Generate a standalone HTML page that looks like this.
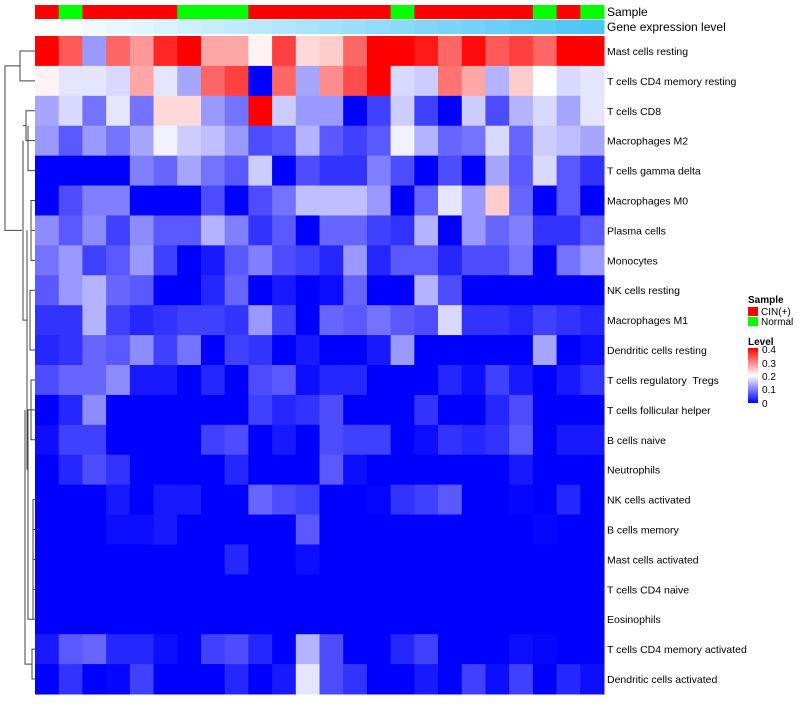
<!DOCTYPE html>
<html><head><meta charset="utf-8"><style>
body{margin:0;background:#fff;font-family:"Liberation Sans",sans-serif}
svg text{font-family:"Liberation Sans",sans-serif}
#labels text{white-space:pre}
</style></head><body>
<svg id="chart" width="800" height="700" xmlns="http://www.w3.org/2000/svg">
<g id="dendro" stroke="#444" fill="none" stroke-width="1"></g>
<g id="annot"></g>
<g id="cells"></g>
<g id="labels" font-size="10.5" fill="#000"></g>
<text x="607" y="16" font-size="12">Sample</text>
<text x="607" y="31" font-size="12">Gene expression level</text>
<g font-size="10">
<text x="748" y="303" font-weight="bold">Sample</text>
<rect x="748" y="307" width="10" height="9" fill="#f00"/>
<text x="761" y="315">CIN(+)</text>
<rect x="748" y="317" width="10" height="9" fill="#0f0"/>
<text x="761" y="325">Normal</text>
<text x="748" y="345" font-weight="bold">Level</text>
<defs><linearGradient id="lg" x1="0" y1="1" x2="0" y2="0"><stop offset="0" stop-color="#00f"/><stop offset="0.5" stop-color="#fff"/><stop offset="1" stop-color="#f00"/></linearGradient></defs>
<rect x="748" y="348" width="10" height="55" fill="url(#lg)"/>
<text x="762" y="353">0.4</text>
<text x="762" y="367">0.3</text>
<text x="762" y="380">0.2</text>
<text x="762" y="393">0.1</text>
<text x="762" y="407">0</text>
</g>
</svg>
<script>
const rowNames=["Mast cells resting","T cells CD4 memory resting","T cells CD8","Macrophages M2","T cells gamma delta","Macrophages M0","Plasma cells","Monocytes","NK cells resting","Macrophages M1","Dendritic cells resting","T cells regulatory  Tregs","T cells follicular helper","B cells naive","Neutrophils","NK cells activated","B cells memory","Mast cells activated","T cells CD4 naive","Eosinophils","T cells CD4 memory activated","Dendritic cells activated"];
const sampleGroups=["C","N","C","C","C","C","N","N","N","C","C","C","C","C","C","N","C","C","C","C","C","N","C","N"];
const r0=[0.42,0.33,0.12,0.32,0.28,0.37,0.42,0.27,0.27,0.21,0.35,0.23,0.24,0.32,0.42,0.42,0.38,0.32,0.39,0.33,0.35,0.32,0.42,0.42];
const r1=[0.21,0.18,0.18,0.17,0.27,0.18,0.13,0.32,0.35,0,0.32,0.13,0.29,0.34,0.4,0.17,0.16,0.31,0.27,0.14,0.24,0.2,0.17,0.18];
const r2=[0.13,0.17,0.09,0.18,0.09,0.23,0.23,0.12,0.09,0.45,0.16,0.12,0.12,0,0.05,0.16,0.05,0,0.16,0.06,0.14,0.17,0.13,0.18];
const r3=[0.12,0.07,0.12,0.09,0.13,0.19,0.16,0.15,0.12,0.06,0.07,0.14,0.07,0.05,0.07,0.19,0.14,0.08,0.09,0.17,0.08,0.16,0.15,0.13];
const r4=[0,0,0,0,0.1,0.08,0.13,0.09,0.07,0.16,0,0.06,0.04,0.04,0.1,0.06,0,0.06,0,0.13,0.07,0.17,0.07,0.04];
const r5=[0,0.06,0.1,0.1,0,0,0,0.06,0,0.06,0.09,0.15,0.15,0.15,0.12,0,0.08,0.18,0.12,0.24,0.08,0,0.07,0];
const r6=[0.11,0.07,0.11,0.05,0.11,0.07,0.07,0.14,0.1,0.04,0.07,0,0.08,0.08,0.05,0.04,0.14,0,0.12,0.08,0.1,0.04,0.04,0.07];
const r7=[0.09,0.12,0.05,0.07,0.12,0.05,0,0.02,0.07,0.1,0.06,0.05,0.03,0.12,0.03,0.07,0.07,0.03,0.06,0.06,0.09,0,0.09,0.12];
const r8=[0.07,0.12,0.14,0.08,0.07,0,0,0.03,0.08,0,0.02,0,0.01,0.08,0,0,0.14,0.06,0,0,0,0,0,0];
const r9=[0.04,0.04,0.14,0.05,0.03,0.04,0.05,0.05,0.04,0.12,0.05,0,0.08,0.07,0.09,0.07,0.06,0.17,0.04,0.04,0.03,0.05,0.04,0.03];
const r10=[0.03,0.04,0.08,0.07,0.11,0.05,0.09,0,0.05,0.04,0,0.02,0,0,0.02,0.12,0,0,0,0,0,0.13,0,0.01];
const r11=[0.06,0.08,0.08,0.11,0.02,0.02,0,0.03,0,0.06,0.07,0.01,0.03,0.03,0,0,0,0.03,0.01,0.05,0.02,0,0.02,0.04];
const r12=[0,0.03,0.11,0,0,0,0,0,0,0.05,0.03,0.04,0.06,0,0,0,0.04,0,0,0.03,0.06,0,0,0];
const r13=[0.01,0.05,0.05,0,0,0,0,0.05,0.06,0,0.02,0,0.06,0.05,0.05,0,0.01,0.04,0.03,0.04,0.07,0,0.02,0.02];
const r14=[0,0.03,0.06,0.04,0,0,0,0,0.03,0,0,0,0.07,0.01,0,0,0,0,0,0,0.02,0,0,0];
const r15=[0,0,0,0.02,0,0.02,0.02,0,0,0.08,0.06,0.05,0,0,0.005,0.04,0.05,0.07,0,0,0.005,0,0.03,0];
const r16=[0,0,0,0.01,0.01,0.02,0,0,0,0,0,0.07,0,0,0,0,0,0,0,0,0,0.005,0,0];
const r17=[0,0,0,0,0,0,0,0,0.03,0,0,0.01,0,0,0,0,0,0,0,0,0,0,0,0];
const r18=[0,0,0,0,0,0,0,0,0,0,0,0,0,0,0,0,0,0,0,0,0,0,0,0];
const r19=[0,0,0,0,0,0,0,0,0,0,0,0,0,0,0,0,0,0,0,0,0,0,0,0];
const r20=[0.02,0.07,0.08,0.03,0.03,0.01,0,0.05,0.06,0.03,0,0.14,0.06,0,0,0.03,0.05,0,0,0,0.01,0.005,0,0];
const r21=[0,0.04,0,0.005,0.05,0,0,0,0.03,0,0.02,0.18,0.06,0.04,0,0,0.02,0,0.05,0.01,0.05,0,0.03,0.01];
const values=[r0,r1,r2,r3,r4,r5,r6,r7,r8,r9,r10,r11,r12,r13,r14,r15,r16,r17,r18,r19,r20,r21];

const NS="http://www.w3.org/2000/svg";
const X0=35,X1=604,Y0=36,Y1=694;
const nC=sampleGroups.length,nR=rowNames.length;
const cw=(X1-X0)/nC,rh=(Y1-Y0)/nR;
const xs=i=>X0+i*cw, ys=j=>Y0+j*rh;
function col(v){v=Math.max(0,Math.min(0.4,v));let r,g,b;
 if(v<=0.2){const t=v/0.2;r=255*t;g=255*t;b=255;}else{const t=(v-0.2)/0.2;r=255;g=255*(1-t);b=255*(1-t);}
 return `rgb(${Math.round(r)},${Math.round(g)},${Math.round(b)})`;}
function mk(tag,attrs,parent){const e=document.createElementNS(NS,tag);for(const k in attrs)e.setAttribute(k,attrs[k]);parent.appendChild(e);return e;}
const cells=document.getElementById('cells');
values.forEach((row,j)=>row.forEach((v,i)=>{
 const r=mk('rect',{x:xs(i),y:ys(j),width:cw+0.5,height:rh+0.5,fill:col(v)},cells);
 
 
}));
const lab=document.getElementById('labels');
rowNames.forEach((n,j)=>{
 const t=mk('text',{x:607,y:ys(j)+rh/2+4},lab);t.textContent=n;
 
 
});
const an=document.getElementById('annot');
sampleGroups.forEach((g,i)=>{
 const r=mk('rect',{x:xs(i),y:5,width:cw+0.5,height:14,fill:g==="C"?"#f00":"#0f0"},an);
 
 
 const t=i/(nC-1);
 const c=`rgb(${Math.round(255-(255-75)*t)},${Math.round(255-(255-198)*t)},${Math.round(255-(255-247)*t)})`;
 const r2=mk('rect',{x:xs(i),y:20,width:cw+0.5,height:14,fill:c},an);
 
 
});
const dg=document.getElementById('dendro');
const cy=j=>ys(j)+rh/2;
const segs=[
 `M35 ${cy(0)}H20V${cy(1)}H35`,
 `M20 ${(cy(0)+cy(1))/2}H5V${cy(6)}H22`,
 `M35 ${cy(2)}H26V${cy(3)}H35`,`M35 ${cy(4)}H28V${(cy(2)+cy(3))/2}`,
 `M26 ${(cy(2)+cy(3))/2}H23`,`M23 ${(cy(2)+cy(4))/2}V${cy(9)}H27`,
 `M35 ${cy(5)}H31V${cy(7)}H35`,`M35 ${cy(6)}H31`,`M35 ${cy(8)}H30V${cy(10)}H35`,
 `M27 ${cy(6)}V${cy(14)}`,`M35 ${cy(11)}H31V${cy(13)}H35`,`M35 ${cy(12)}H31`,
 `M31 ${cy(12)}H28V${cy(19)}H33`,`M35 ${cy(15)}H33V${cy(19)}H35`,`M35 ${cy(16)}H33`,`M35 ${cy(17)}H33`,`M35 ${cy(18)}H33`,
 `M35 ${cy(20)}H32V${cy(21)}H35`,`M32 ${(cy(20)+cy(21))/2}H25V${cy(12)}`
];
segs.forEach(d=>{const p=mk('path',{d},dg);
 
 });
</script>
</body></html>
